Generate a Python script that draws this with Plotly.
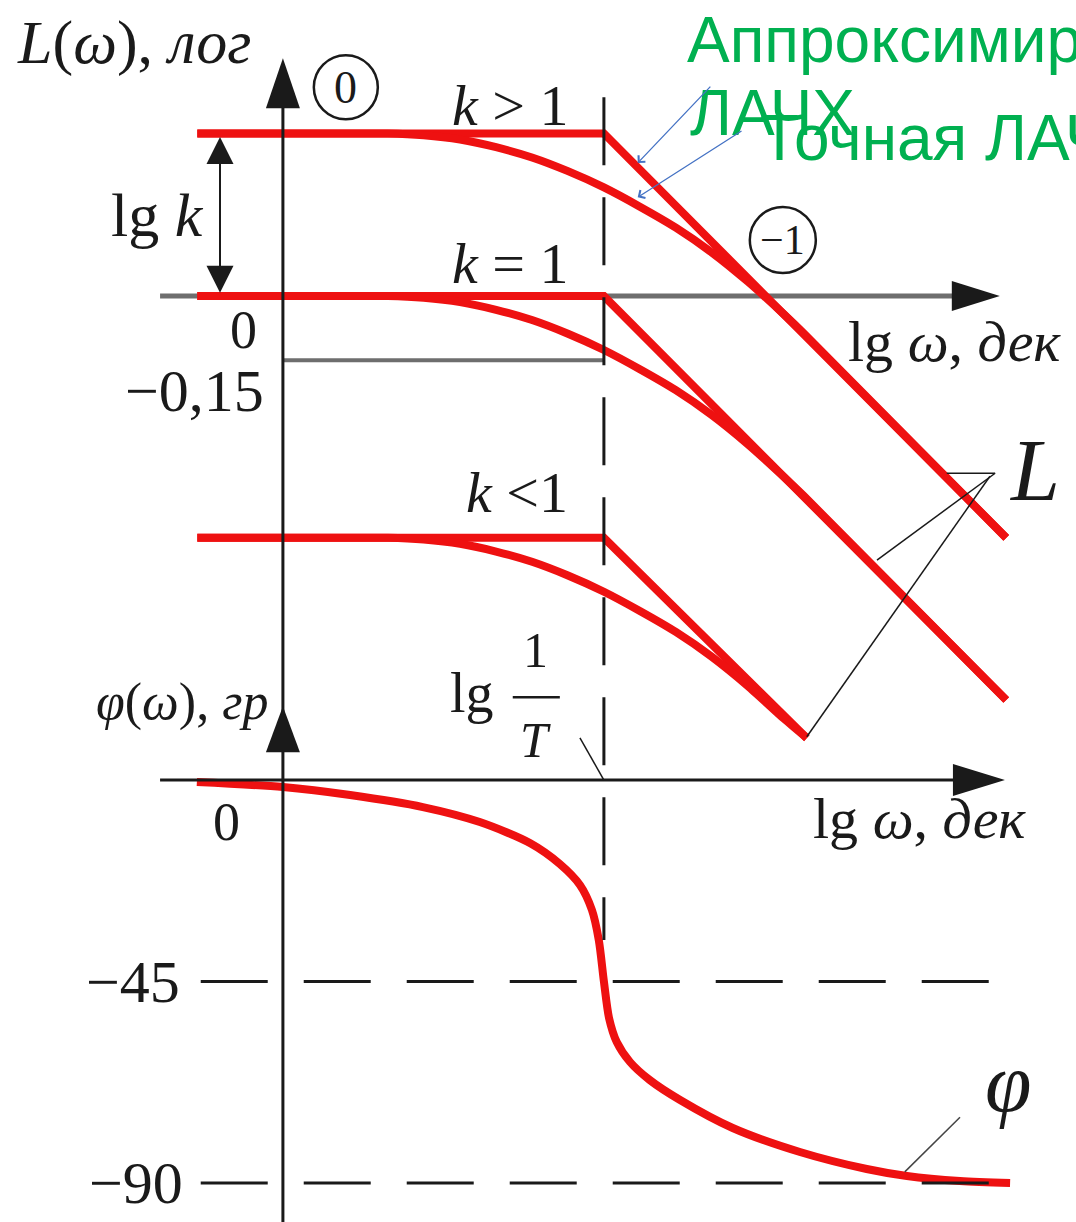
import plotly.graph_objects as go

# ---------------- data (log units: decades / log-amplitude, phase in degrees) ----------------
LG_INV_T = 0.75            # break frequency lg(1/T)
LG_K = 0.38                # lg k for k > 1
LG_K_SMALL = -0.565        # lg k for k < 1
L_MARK = -0.15             # exact curve drop at the break frequency
PHASE_MARKS = [-45, -90]

# straight-line (asymptotic) LAFC
lgw_asym_long = [-0.20, 0.75, 1.69]
lgw_asym_short = [-0.20, 0.75, 1.224]
L_asym_gt1 = [0.38, 0.38, -0.565]
L_asym_eq1 = [0.0, 0.0, -0.944]
L_asym_lt1 = [-0.565, -0.565, -1.033]

# exact LAFC
lgw_exact_long = [-0.20, 0.10, 0.245, 0.329, 0.414, 0.498, 0.582, 0.666, 0.75,
                  0.834, 0.918, 1.002, 1.086, 1.171, 1.217, 1.69]
lgw_exact_short = [-0.20, 0.10, 0.245, 0.329, 0.414, 0.498, 0.582, 0.666, 0.75,
                   0.834, 0.918, 1.002, 1.086, 1.171, 1.224]
L_exact_gt1 = [0.38, 0.38, 0.38, 0.376, 0.366, 0.348, 0.324, 0.292, 0.254,
               0.209, 0.16, 0.102, 0.034, -0.043, -0.087, -0.565]
L_exact_eq1 = [0.0, 0.0, 0.0, -0.004, -0.014, -0.032, -0.056, -0.088, -0.126,
               -0.171, -0.22, -0.278, -0.346, -0.423, -0.467, -0.944]
L_exact_lt1 = [-0.565, -0.565, -0.565, -0.569, -0.579, -0.597, -0.621, -0.653, -0.691,
               -0.736, -0.785, -0.843, -0.911, -0.988, -1.033]

# phase response
lgw_phase = [-0.201, 0.0, 0.157, 0.327, 0.460, 0.577, 0.647, 0.694, 0.722, 0.738,
             0.75, 0.762, 0.780, 0.811, 0.857, 0.928, 1.051, 1.208, 1.364, 1.458,
             1.582, 1.699]
phase_deg = [-0.45, -1.56, -3.35, -6.03, -9.38, -14.07, -18.76, -23.45, -29.03, -35.73,
             -45.0, -53.15, -58.51, -62.97, -66.99, -71.46, -77.71, -83.07, -86.87, -88.43,
             -89.55, -90.0]

# ---------------- canvas / axes ----------------
W, H = 1076, 1222
X_RANGE = [-0.661, 1.853]
L_RANGE = [-2.164, 0.692]
PH_RANGE = [-98.7, 174.2]

RED = "#EE1111"
INK = "#1a1a1a"
GREY = "#6e6e6e"
GREEN = "#00B050"
BLUE = "#4472C4"
SERIF = "Liberation Serif"
SANS = "Liberation Sans"


def px_x(v):
    return (v - X_RANGE[0]) / (X_RANGE[1] - X_RANGE[0]) * W


def val_x(p):
    return X_RANGE[0] + p / W * (X_RANGE[1] - X_RANGE[0])


def rng_of(yref):
    return L_RANGE if yref == "y" else PH_RANGE


def px_y(v, yref):
    r = rng_of(yref)
    return (r[1] - v) / (r[1] - r[0]) * H


def val_y(p, yref):
    r = rng_of(yref)
    return r[1] - p / H * (r[1] - r[0])


def head(tx, ty, direction, length, width, yref="y", color=INK):
    """Filled triangular arrow head with its tip at data point (tx, ty)."""
    x, y = px_x(tx), px_y(ty, yref)
    h = width / 2
    if direction == "up":
        pts = [(x, y), (x - h, y + length), (x + h, y + length)]
    elif direction == "down":
        pts = [(x, y), (x - h, y - length), (x + h, y - length)]
    else:
        pts = [(x, y), (x - length, y - h), (x - length, y + h)]
    path = "M " + " L ".join(f"{val_x(a):.5f},{val_y(b, yref):.5f}" for a, b in pts) + " Z"
    return dict(type="path", path=path, xref="x", yref=yref,
                fillcolor=color, line=dict(width=0), layer="above")


def seg(x0, y0, x1, y1, yref="y", color=INK, width=3, dash=None, layer="above"):
    line = dict(color=color, width=width)
    if dash:
        line["dash"] = dash
    return dict(type="line", x0=x0, y0=y0, x1=x1, y1=y1, xref="x", yref=yref,
                line=line, layer=layer)


def ring(cx, cy, r_px, yref="y"):
    x, y = px_x(cx), px_y(cy, yref)
    return dict(type="circle", xref="x", yref=yref,
                x0=val_x(x - r_px), x1=val_x(x + r_px),
                y0=val_y(y + r_px, yref), y1=val_y(y - r_px, yref),
                line=dict(color=INK, width=2.5), fillcolor="rgba(0,0,0,0)")


fig = go.Figure()

red_line = dict(color=RED, width=8)

# asymptotic characteristics
for xs, ys in [(lgw_asym_long, L_asym_gt1), (lgw_asym_long, L_asym_eq1),
               (lgw_asym_short, L_asym_lt1)]:
    fig.add_trace(go.Scatter(x=xs, y=ys, mode="lines", line=red_line,
                             hoverinfo="skip"))

# exact characteristics
for xs, ys in [(lgw_exact_long, L_exact_gt1), (lgw_exact_long, L_exact_eq1),
               (lgw_exact_short, L_exact_lt1)]:
    fig.add_trace(go.Scatter(x=xs, y=ys, mode="lines",
                             line=dict(color=RED, width=8, shape="spline", smoothing=0.6),
                             hoverinfo="skip"))

# phase characteristic
fig.add_trace(go.Scatter(x=lgw_phase, y=phase_deg, yaxis="y2", mode="lines",
                         line=dict(color=RED, width=8, shape="spline", smoothing=0.8),
                         hoverinfo="skip"))

shapes = []
# L axis (grey) and the -0.15 level
shapes.append(seg(-0.287, 0, 1.62, 0, color=GREY, width=5, layer="below"))
shapes.append(head(1.675, 0, "right", 48, 30, color=INK))
shapes.append(seg(0, L_MARK, LG_INV_T, L_MARK, color=GREY, width=4, layer="below"))

# vertical axis (shared by both plots)
shapes.append(seg(0, -2.164, 0, 0.45, width=3))
shapes.append(head(0, 0.556, "up", 50, 34))
# phase axis arrow on the same vertical line
shapes.append(head(0, 16.5, "up", 46, 34, yref="y2"))

# phase horizontal axis
shapes.append(seg(-0.287, 0, 1.62, 0, yref="y2", width=3))
shapes.append(head(1.687, 0, "right", 52, 32, yref="y2"))

# break frequency (dashed vertical)
shapes.append(seg(LG_INV_T, 0.465, LG_INV_T, -1.505, width=3, dash="68px,32px"))

# -45 and -90 degree levels
for m in PHASE_MARKS:
    shapes.append(seg(-0.192, m, 1.65, m, yref="y2", width=3, dash="67px,36px"))

# lg k double arrow
shapes.append(seg(-0.147, LG_K - 0.04, -0.147, 0.04, width=2))
shapes.append(head(-0.147, LG_K - 0.008, "up", 27, 27))
shapes.append(head(-0.147, 0.008, "down", 27, 27))

# slope markers
shapes.append(ring(0.147, 0.488, 32))
shapes.append(ring(1.168, 0.131, 33))

# leader lines to the L and phi labels, and to lg(1/T)
shapes.append(seg(1.551, -0.414, 1.664, -0.414, width=1.5))
shapes.append(seg(1.664, -0.414, 1.388, -0.617, width=1.5))
shapes.append(seg(1.652, -0.421, 1.224, -1.030, width=1.5))
shapes.append(seg(1.582, -75.3, 1.453, -87.5, yref="y2", width=1.5, color="#444444"))
shapes.append(seg(0.694, 9.4, 0.75, 0.0, yref="y2", width=1.5))

# fraction bar of lg(1/T)
shapes.append(seg(0.537, 18.5, 0.647, 18.5, yref="y2", width=2.5))

annotations = []


def label(text, x, y, yref="y", size=56, xanchor="center", color=INK, family=SERIF):
    annotations.append(dict(text=text, x=x, y=y, xref="x", yref=yref,
                            xanchor=xanchor, yanchor="middle", showarrow=False,
                            font=dict(family=family, size=size, color=color)))


label("<i>L</i>(<i>ω</i>), <i>лог</i>", -0.626, 0.592, size=62, xanchor="left")
label("<i>k</i> > 1", 0.530, 0.446, size=58)
label("lg <i>k</i>", -0.294, 0.189, size=62)
label("<i>k</i> = 1", 0.530, 0.077, size=58)
label("0", -0.093, -0.080, size=54)
label("−0,15", -0.206, -0.222, size=60)
label("<i>k</i> <1", 0.547, -0.460, size=58)
label("lg <i>ω</i>, <i>дек</i>", 1.570, -0.107, size=58)
label("<i>L</i>", 1.757, -0.407, size=88)
label("0", 0.147, 0.488, size=46)
label("−1", 1.168, 0.131, size=42)

label("<i>φ</i>(<i>ω</i>), <i>гр</i>", -0.236, 17.4, yref="y2", size=52)
label("lg", 0.442, 19.4, yref="y2", size=56)
label("1", 0.589, 29.0, yref="y2", size=50)
label("<i>T</i>", 0.589, 8.9, yref="y2", size=50)
label("0", -0.131, -9.4, yref="y2", size=54)
label("lg <i>ω</i>, <i>дек</i>", 1.488, -8.5, yref="y2", size=58)
label("−45", -0.350, -45, yref="y2", size=60)
label("−90", -0.343, -90, yref="y2", size=60)
label("<i>φ</i>", 1.694, -67.6, yref="y2", size=84)

# green captions with pointers
label("Аппроксимированная", 0.939, 0.598, size=64, xanchor="left", color=GREEN, family=SANS)
label("ЛАЧХ", 0.946, 0.428, size=64, xanchor="left", color=GREEN, family=SANS)
label("Точная ЛАЧХ", 1.110, 0.369, size=64, xanchor="left", color=GREEN, family=SANS)

for (x, y), (ax, ay) in [((0.829, 0.311), (1.002, 0.493)),
                         ((0.829, 0.231), (1.075, 0.388))]:
    annotations.append(dict(text="", x=x, y=y, ax=ax, ay=ay, xref="x", yref="y",
                            axref="x", ayref="y", showarrow=True, arrowhead=4,
                            arrowsize=1.4, arrowwidth=1.3, arrowcolor=BLUE))

fig.update_layout(
    width=W, height=H,
    margin=dict(l=0, r=0, t=0, b=0),
    paper_bgcolor="white", plot_bgcolor="white",
    showlegend=False, hovermode=False,
    xaxis=dict(range=X_RANGE, visible=False, fixedrange=True),
    yaxis=dict(range=L_RANGE, visible=False, fixedrange=True),
    yaxis2=dict(range=PH_RANGE, visible=False, overlaying="y", fixedrange=True),
    shapes=shapes,
    annotations=annotations,
)

fig.write_html("out.html")
